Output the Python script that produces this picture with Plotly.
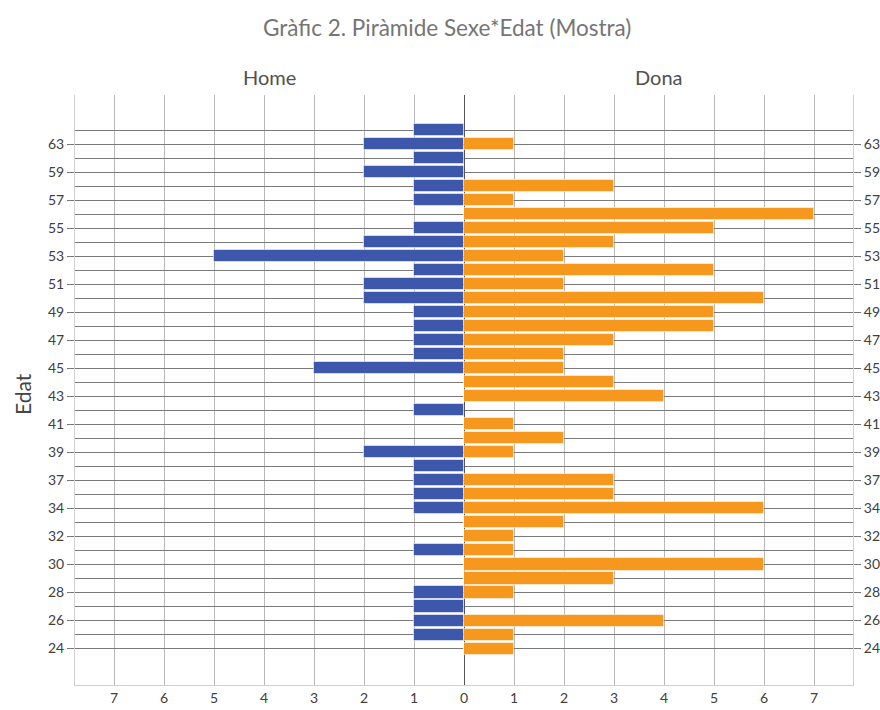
import plotly.graph_objects as go

# Age categories from bottom to top (every other one labelled)
ages = ["24", "25", "26", "27", "28", "29", "30", "31", "32", "33", "34", "35",
        "37", "38", "39", "40", "41", "42", "43", "44", "45", "46", "47", "48",
        "49", "50", "51", "52", "53", "54", "55", "56", "57", "58", "59", "61",
        "63", "64"]
home = [0, 1, 1, 1, 1, 0, 0, 1, 0, 0, 1, 1,
        1, 1, 2, 0, 0, 1, 0, 0, 3, 1, 1, 1,
        1, 2, 2, 1, 5, 2, 1, 0, 1, 1, 2, 1,
        2, 1]
dona = [1, 1, 4, 0, 1, 3, 6, 1, 1, 2, 6, 3,
        3, 0, 1, 2, 1, 0, 4, 3, 2, 2, 3, 5,
        5, 6, 2, 5, 2, 3, 5, 7, 1, 3, 0, 0,
        1, 0]
labelled = ["24", "26", "28", "30", "32", "34", "37", "39", "41", "43", "45",
            "47", "49", "51", "53", "55", "57", "59", "63"]
x_ticks_left = [0, 1, 2, 3, 4, 5, 6, 7]
x_ticks_right = [1, 2, 3, 4, 5, 6, 7]

title_txt = "Gràfic 2. Piràmide Sexe*Edat (Mostra)"
left_name = "Home"
right_name = "Dona"
y_title = "Edat"

W, H = 880, 710
FONT = "Lato, 'Open Sans', sans-serif"
blue = "#3D57AA"
orange = "#F7981E"
grid_h = "#7a7a7a"
grid_v = "#b8b8b8"
frame = "#cfcfcf"

xl0, xl1 = 75, 464
xr0, xr1 = 464, 853
yt, yb = 95, 685
ydom = [1 - yb / H, 1 - yt / H]
yrange = [-2.6, len(ages) - 1 + 2.5]

fig = go.Figure()
fig.add_trace(go.Bar(x=home, y=ages, orientation="h", xaxis="x", yaxis="y",
                     width=0.86, marker=dict(color=blue, line=dict(color="rgba(255,255,255,0.55)", width=1)),
                     showlegend=False, name=left_name))
fig.add_trace(go.Bar(x=dona, y=ages, orientation="h", xaxis="x2", yaxis="y2",
                     width=0.86, marker=dict(color=orange, line=dict(color="rgba(255,255,255,0.55)", width=1)),
                     showlegend=False, name=right_name))
# invisible helpers so the label axes get drawn
fig.add_trace(go.Scatter(x=[0] * len(ages), y=ages, xaxis="x", yaxis="y3", mode="markers",
                         marker=dict(opacity=0), hoverinfo="skip", showlegend=False))
fig.add_trace(go.Scatter(x=[0] * len(ages), y=ages, xaxis="x2", yaxis="y4", mode="markers",
                         marker=dict(opacity=0), hoverinfo="skip", showlegend=False))

tickfont = dict(family=FONT, size=14, color="#404040")

common_y = dict(type="category", categoryorder="array", categoryarray=ages,
                range=yrange, domain=ydom, fixedrange=True, automargin=False)

fig.update_layout(
    width=W, height=H,
    margin=dict(l=0, r=0, t=0, b=0, autoexpand=False),
    paper_bgcolor="white", plot_bgcolor="white",
    bargap=0,
    xaxis=dict(domain=[xl0 / W, xl1 / W], range=[7.78, 0], anchor="y", automargin=False,
               tickmode="array", tickvals=x_ticks_left, ticks="", tickfont=tickfont,
               showgrid=True, gridcolor=grid_v, gridwidth=1,
               zeroline=True, zerolinecolor="#555555", zerolinewidth=1,
               showline=True, linecolor=frame, linewidth=1, mirror=False, fixedrange=True),
    xaxis2=dict(domain=[xr0 / W, xr1 / W], range=[0, 7.78], anchor="y2", automargin=False,
                tickmode="array", tickvals=x_ticks_right, ticks="", tickfont=tickfont,
                showgrid=True, gridcolor=grid_v, gridwidth=1,
                zeroline=True, zerolinecolor="#555555", zerolinewidth=1,
                showline=True, linecolor=frame, linewidth=1, fixedrange=True),
    yaxis=dict(**common_y, anchor="x", side="left",
               tickmode="array", tickvals=ages, showticklabels=False, ticks="",
               showgrid=True, gridcolor=grid_h, gridwidth=1,
               showline=True, linecolor=frame, linewidth=1),
    yaxis2=dict(**common_y, anchor="x2", side="right",
                tickmode="array", tickvals=ages, showticklabels=False, ticks="",
                showgrid=True, gridcolor=grid_h, gridwidth=1,
                showline=True, linecolor=frame, linewidth=1),
    yaxis3=dict(**common_y, anchor="x", side="left", overlaying="y",
                tickmode="array", tickvals=labelled, ticktext=labelled,
                ticks="outside", ticklen=7, tickcolor="#777777", tickwidth=1,
                tickfont=tickfont, showgrid=False, showline=False),
    yaxis4=dict(**common_y, anchor="x2", side="right", overlaying="y2",
                tickmode="array", tickvals=labelled, ticktext=labelled,
                ticks="outside", ticklen=7, tickcolor="#777777", tickwidth=1,
                tickfont=tickfont, showgrid=False, showline=False),
    annotations=[
        dict(text=title_txt, x=447 / W, y=1 - 28 / H, xref="paper", yref="paper",
             showarrow=False, font=dict(family=FONT, size=22.5, color="#757575"),
             xanchor="center", yanchor="middle"),
        dict(text=left_name, x=0.5, y=1 - 77 / H, xref="x domain", yref="paper",
             showarrow=False, font=dict(family=FONT, size=20, color="#505050"),
             xanchor="center", yanchor="middle"),
        dict(text=right_name, x=0.5, y=1 - 77 / H, xref="x2 domain", yref="paper",
             showarrow=False, font=dict(family=FONT, size=20, color="#505050"),
             xanchor="center", yanchor="middle"),
        dict(text=y_title, x=22 / W, y=1 - 394 / H, xref="paper", yref="paper",
             showarrow=False, textangle=-90, font=dict(family=FONT, size=21, color="#444444"),
             xanchor="center", yanchor="middle"),
    ],
)

fig.write_html("out.html", config={"displayModeBar": False})

# remove the default page margin so the 880x710 figure fits the window exactly
with open("out.html", "r", encoding="utf-8") as f:
    html = f.read()
html = html.replace("<head>", "<head><style>html,body{margin:0;padding:0;overflow:hidden;}</style>", 1)
with open("out.html", "w", encoding="utf-8") as f:
    f.write(html)
